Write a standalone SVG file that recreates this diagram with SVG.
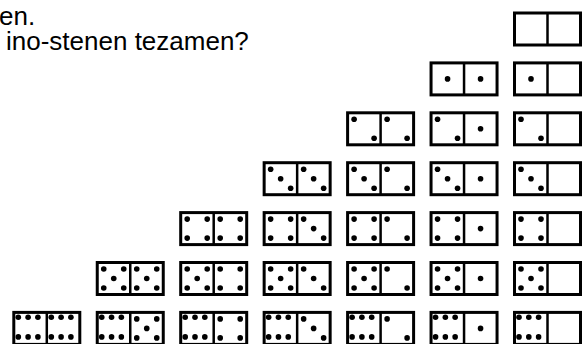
<svg xmlns="http://www.w3.org/2000/svg" width="588" height="344" viewBox="0 0 588 344">
<style>
.t{font-family:"Liberation Sans",Arial,sans-serif;font-size:26px;fill:#000}
.b{fill:#fff;stroke:#000;stroke-width:3}
.v{stroke:#000;stroke-width:2.5}
.p{fill:#000}
</style>
<defs>
<g id="tile"><rect class="b" x="0" y="0" width="66" height="32"/><line class="v" x1="33" y1="0" x2="33" y2="32"/></g>
<g id="p0"></g>
<g id="p1" class="p"><circle cx="16.5" cy="16" r="2.8"/></g>
<g id="p2" class="p"><circle cx="6.5" cy="6.5" r="2.8"/><circle cx="26.5" cy="25.5" r="2.8"/></g>
<g id="p3" class="p"><circle cx="6.5" cy="6.5" r="2.8"/><circle cx="16.5" cy="16" r="2.8"/><circle cx="26.5" cy="25.5" r="2.8"/></g>
<g id="p4" class="p"><circle cx="6.5" cy="6.5" r="2.8"/><circle cx="26.5" cy="6.5" r="2.8"/><circle cx="6.5" cy="25.5" r="2.8"/><circle cx="26.5" cy="25.5" r="2.8"/></g>
<g id="p5" class="p"><circle cx="6.5" cy="6.5" r="2.8"/><circle cx="26.5" cy="6.5" r="2.8"/><circle cx="16.5" cy="16" r="2.8"/><circle cx="6.5" cy="25.5" r="2.8"/><circle cx="26.5" cy="25.5" r="2.8"/></g>
<g id="p6" class="p"><circle cx="4.5" cy="4.8" r="2.8"/><circle cx="14.3" cy="4.8" r="2.8"/><circle cx="24.1" cy="4.8" r="2.8"/><circle cx="4.5" cy="24.5" r="2.8"/><circle cx="14.3" cy="24.5" r="2.8"/><circle cx="24.1" cy="24.5" r="2.8"/></g>
</defs>
<g id="text">
<text class="t" x="-1" y="25">en.</text>
<text class="t" x="6" y="50">ino-stenen tezamen?</text>
</g>
<g id="connectors"></g>
<g id="d00" transform="translate(514.5,13)"><use href="#tile"/><use href="#p0"/><use href="#p0" x="33"/></g>
<g id="d11" transform="translate(431.05,62.9)"><use href="#tile"/><use href="#p1"/><use href="#p1" x="33"/></g>
<g id="d10" transform="translate(514.5,62.9)"><use href="#tile"/><use href="#p1"/><use href="#p0" x="33"/></g>
<g id="d22" transform="translate(347.6,112.8)"><use href="#tile"/><use href="#p2"/><use href="#p2" x="33"/></g>
<g id="d21" transform="translate(431.05,112.8)"><use href="#tile"/><use href="#p2"/><use href="#p1" x="33"/></g>
<g id="d20" transform="translate(514.5,112.8)"><use href="#tile"/><use href="#p2"/><use href="#p0" x="33"/></g>
<g id="d33" transform="translate(264.15,162.7)"><use href="#tile"/><use href="#p3"/><use href="#p3" x="33"/></g>
<g id="d32" transform="translate(347.6,162.7)"><use href="#tile"/><use href="#p3"/><use href="#p2" x="33"/></g>
<g id="d31" transform="translate(431.05,162.7)"><use href="#tile"/><use href="#p3"/><use href="#p1" x="33"/></g>
<g id="d30" transform="translate(514.5,162.7)"><use href="#tile"/><use href="#p3"/><use href="#p0" x="33"/></g>
<g id="d44" transform="translate(180.7,212.6)"><use href="#tile"/><use href="#p4"/><use href="#p4" x="33"/></g>
<g id="d43" transform="translate(264.15,212.6)"><use href="#tile"/><use href="#p4"/><use href="#p3" x="33"/></g>
<g id="d42" transform="translate(347.6,212.6)"><use href="#tile"/><use href="#p4"/><use href="#p2" x="33"/></g>
<g id="d41" transform="translate(431.05,212.6)"><use href="#tile"/><use href="#p4"/><use href="#p1" x="33"/></g>
<g id="d40" transform="translate(514.5,212.6)"><use href="#tile"/><use href="#p4"/><use href="#p0" x="33"/></g>
<g id="d55" transform="translate(97.25,262.5)"><use href="#tile"/><use href="#p5"/><use href="#p5" x="33"/></g>
<g id="d54" transform="translate(180.7,262.5)"><use href="#tile"/><use href="#p5"/><use href="#p4" x="33"/></g>
<g id="d53" transform="translate(264.15,262.5)"><use href="#tile"/><use href="#p5"/><use href="#p3" x="33"/></g>
<g id="d52" transform="translate(347.6,262.5)"><use href="#tile"/><use href="#p5"/><use href="#p2" x="33"/></g>
<g id="d51" transform="translate(431.05,262.5)"><use href="#tile"/><use href="#p5"/><use href="#p1" x="33"/></g>
<g id="d50" transform="translate(514.5,262.5)"><use href="#tile"/><use href="#p5"/><use href="#p0" x="33"/></g>
<g id="d66" transform="translate(13.8,312.4)"><use href="#tile"/><use href="#p6"/><use href="#p6" x="33"/></g>
<g id="d65" transform="translate(97.25,312.4)"><use href="#tile"/><use href="#p6"/><use href="#p5" x="33"/></g>
<g id="d64" transform="translate(180.7,312.4)"><use href="#tile"/><use href="#p6"/><use href="#p4" x="33"/></g>
<g id="d63" transform="translate(264.15,312.4)"><use href="#tile"/><use href="#p6"/><use href="#p3" x="33"/></g>
<g id="d62" transform="translate(347.6,312.4)"><use href="#tile"/><use href="#p6"/><use href="#p2" x="33"/></g>
<g id="d61" transform="translate(431.05,312.4)"><use href="#tile"/><use href="#p6"/><use href="#p1" x="33"/></g>
<g id="d60" transform="translate(514.5,312.4)"><use href="#tile"/><use href="#p6"/><use href="#p0" x="33"/></g>
</svg>
